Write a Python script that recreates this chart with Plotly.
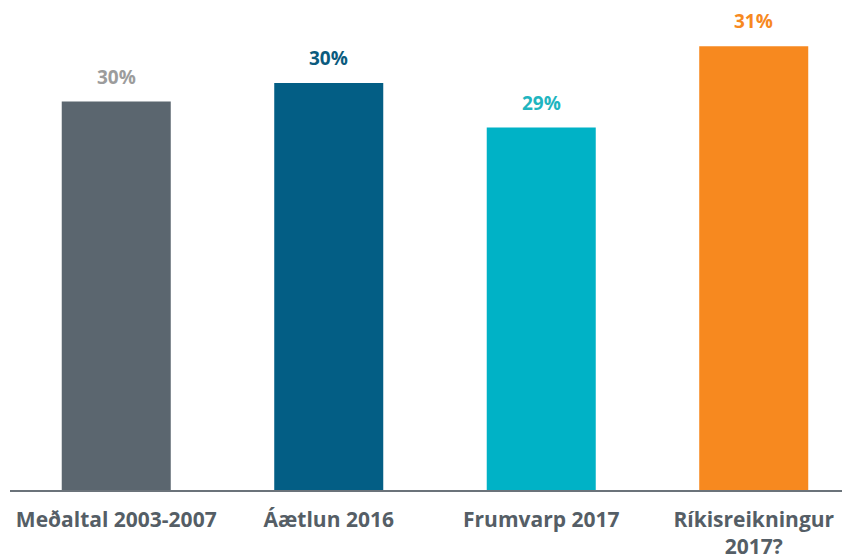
import plotly.graph_objects as go

# categories and values (percent)
categories = ["Meðaltal 2003-2007", "Áætlun 2016", "Frumvarp 2017", "Ríkisreikningur<br>2017?"]
values = [29.75, 30.22, 29.1, 31.14]
labels = ["30%", "30%", "29%", "31%"]

bar_colors = ["#5b666f", "#035e85", "#00b2c6", "#f7891f"]
label_colors = ["#9c9c9c", "#0b5b7e", "#1fb5c0", "#f7891f"]

fig = go.Figure()
fig.add_trace(go.Bar(
    x=list(range(len(categories))), y=values,
    marker=dict(color=bar_colors, line=dict(width=0)),
    width=0.513,
    hoverinfo="skip",
))

# value labels above bars
for i, (v, t) in enumerate(zip(values, labels)):
    fig.add_annotation(
        x=i, y=v, text=f"<b>{t}</b>", showarrow=False,
        yshift=25, font=dict(family="Open Sans", size=19, color=label_colors[i]),
    )

# the page body adds an 8px offset, so the figure is sized to fit the window
fig.update_layout(
    width=842, height=552,
    margin=dict(l=2, r=0, t=0, b=68),
    paper_bgcolor="white", plot_bgcolor="white",
    showlegend=False,
)
fig.update_xaxes(
    tickmode="array", tickvals=list(range(len(categories))),
    ticktext=[f"<b>{c}</b>" for c in categories],
    range=[-0.5, 3.453],
    showline=True, linecolor="#6b737a", linewidth=1.5,
    showgrid=False, zeroline=False, ticks="",
    ticklabelstandoff=10,
    tickfont=dict(family="Open Sans", size=21, color="#555e66"),
)
fig.update_yaxes(range=[20, 32.1], visible=False, showgrid=False, zeroline=False)

fig.write_html("out.html")
